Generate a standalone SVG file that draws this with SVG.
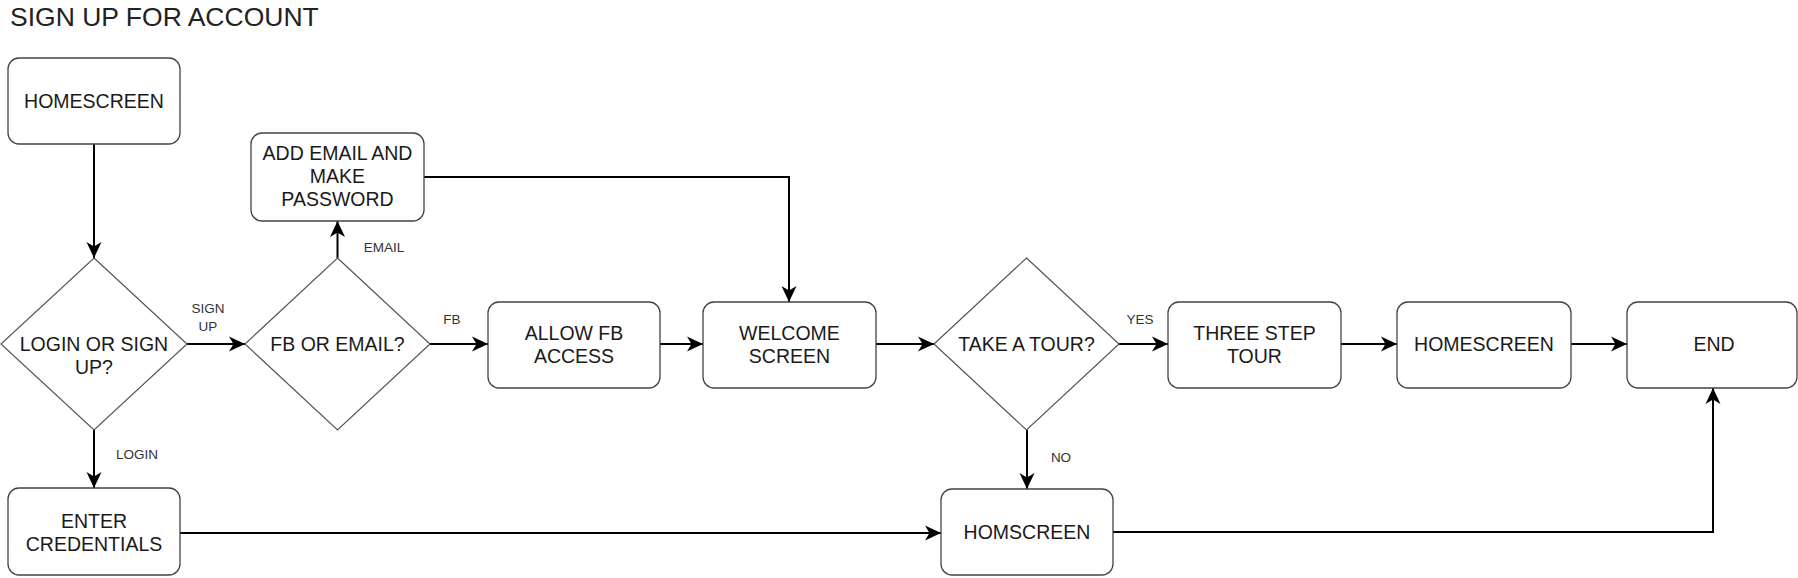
<svg xmlns="http://www.w3.org/2000/svg" width="1798" height="578" viewBox="0 0 1798 578">
<style>
.box{fill:#fff;stroke:#444;stroke-width:1.3}
.dia{fill:#fff;stroke:#555;stroke-width:1.2}
.t{font-family:"Liberation Sans",Arial,sans-serif;font-size:19.5px;fill:#1a1a1a;text-anchor:middle}
.lbl{font-family:"Liberation Sans",Arial,sans-serif;font-size:13.5px;fill:#333;text-anchor:middle}
.title{font-family:"Liberation Sans",Arial,sans-serif;font-size:26.5px;fill:#222}
.c{fill:none;stroke:#000;stroke-width:2;marker-end:url(#arr)}
</style>
<defs>
<marker id="arr" markerUnits="userSpaceOnUse" markerWidth="18" markerHeight="18" refX="16" refY="8" orient="auto">
<path d="M0,0.5 L16,8 L0,15.5 L4.5,8 Z" fill="#000"/>
</marker>
</defs>
<rect width="1798" height="578" fill="#fff"/>
<text class="title" x="10" y="26">SIGN UP FOR ACCOUNT</text>

<g id="connectors">
<path class="c" d="M94,144 V258"/>
<path class="c" d="M187,344 H245"/>
<path class="c" d="M337.5,258 V221"/>
<path class="c" d="M430,344 H488"/>
<path class="c" d="M94,430 V488"/>
<path class="c" d="M424,177 H789 V302"/>
<path class="c" d="M660,344 H703"/>
<path class="c" d="M876,344 H934"/>
<path class="c" d="M1119,344 H1168"/>
<path class="c" d="M1341,344 H1397"/>
<path class="c" d="M1571,344 H1627"/>
<path class="c" d="M1027,430 V489"/>
<path class="c" d="M180,533 H941"/>
<path class="c" d="M1113,532 H1713 V388"/>
<text class="lbl" x="208" y="313">SIGN</text>
<text class="lbl" x="208" y="331">UP</text>
<text class="lbl" x="452" y="324">FB</text>
<text class="lbl" x="384" y="252">EMAIL</text>
<text class="lbl" x="137" y="459">LOGIN</text>
<text class="lbl" x="1140" y="324">YES</text>
<text class="lbl" x="1061" y="462">NO</text>
</g>

<g id="homescreen1">
<rect class="box" x="8" y="58" width="172" height="86" rx="11"/>
<text class="t" x="94" y="108">HOMESCREEN</text>
</g>
<g id="add-email">
<rect class="box" x="251" y="133" width="173" height="88" rx="11"/>
<text class="t" x="337.5" y="160">ADD EMAIL AND</text>
<text class="t" x="337.5" y="183">MAKE</text>
<text class="t" x="337.5" y="206">PASSWORD</text>
</g>
<g id="login-or-signup">
<polygon class="dia" points="94,258 187,344 94,430 1,344"/>
<text class="t" x="94" y="351">LOGIN OR SIGN</text>
<text class="t" x="94" y="374">UP?</text>
</g>
<g id="fb-or-email">
<polygon class="dia" points="337.5,258 430,344 337.5,430 245,344"/>
<text class="t" x="337.5" y="351">FB OR EMAIL?</text>
</g>
<g id="allow-fb">
<rect class="box" x="488" y="302" width="172" height="86" rx="11"/>
<text class="t" x="574" y="340">ALLOW FB</text>
<text class="t" x="574" y="363">ACCESS</text>
</g>
<g id="welcome">
<rect class="box" x="703" y="302" width="173" height="86" rx="11"/>
<text class="t" x="789.5" y="340">WELCOME</text>
<text class="t" x="789.5" y="363">SCREEN</text>
</g>
<g id="take-tour">
<polygon class="dia" points="1026.5,258 1119,344 1026.5,430 934,344"/>
<text class="t" x="1026.5" y="351">TAKE A TOUR?</text>
</g>
<g id="three-step">
<rect class="box" x="1168" y="302" width="173" height="86" rx="11"/>
<text class="t" x="1254.5" y="340">THREE STEP</text>
<text class="t" x="1254.5" y="363">TOUR</text>
</g>
<g id="homescreen2">
<rect class="box" x="1397" y="302" width="174" height="86" rx="11"/>
<text class="t" x="1484" y="351">HOMESCREEN</text>
</g>
<g id="end">
<rect class="box" x="1627" y="302" width="170" height="86" rx="11"/>
<text class="t" x="1714" y="351">END</text>
</g>
<g id="enter-credentials">
<rect class="box" x="8" y="488" width="172" height="87" rx="11"/>
<text class="t" x="94" y="528">ENTER</text>
<text class="t" x="94" y="551">CREDENTIALS</text>
</g>
<g id="homscreen">
<rect class="box" x="941" y="489" width="172" height="86" rx="11"/>
<text class="t" x="1027" y="539">HOMSCREEN</text>
</g>
</svg>
